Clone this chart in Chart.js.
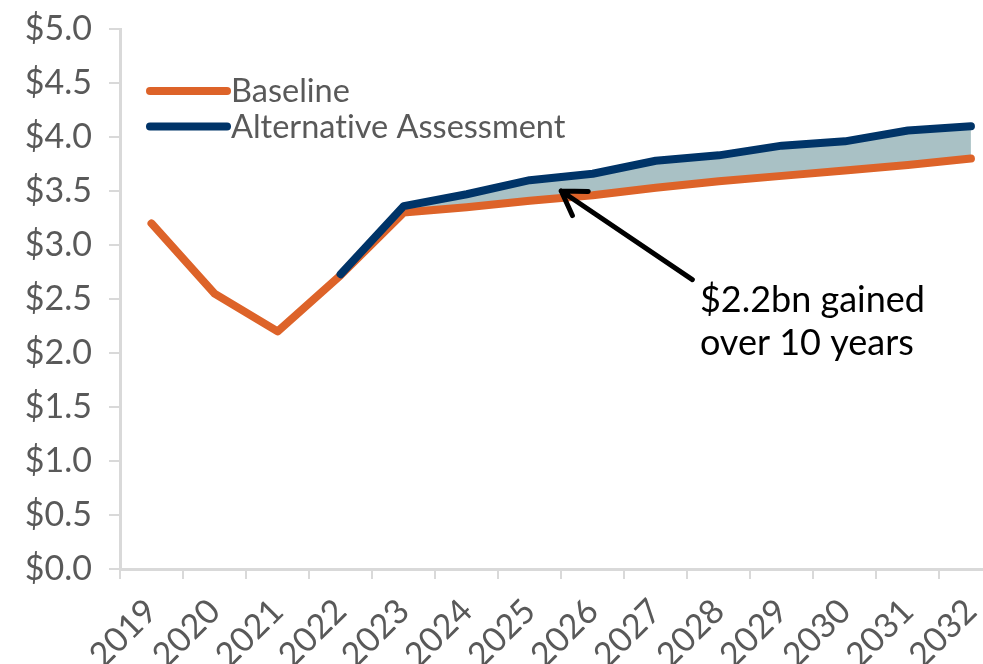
<!DOCTYPE html>
<html>
<head>
<meta charset="utf-8">
<script src="https://cdn.jsdelivr.net/npm/chart.js@4/dist/chart.umd.min.js"></script>
<style>
  html, body { margin: 0; padding: 0; background: #fff; overflow: hidden; }
  #wrap { position: relative; width: 1012px; height: 664px; }
</style>
</head>
<body>
<div id="wrap"><canvas id="chart"></canvas></div>
<script>
// values ($bn)
const years = ["2019", "2020", "2021", "2022", "2023", "2024", "2025", "2026",
  "2027", "2028", "2029", "2030", "2031", "2032"];
const baseline = [3.20, 2.55, 2.20, 2.72, 3.30, 3.35, 3.41, 3.46, 3.53, 3.59, 3.64, 3.69, 3.74, 3.80];
const alternative = [null, null, null, 2.73, 3.36, 3.47, 3.60, 3.66, 3.78, 3.83, 3.92, 3.96, 4.06, 4.10];
const yTicks = [0, 0.5, 1, 1.5, 2, 2.5, 3, 3.5, 4, 4.5, 5];

// annotation, in axis units (category index, $bn)
const arrowTip = [6.5, 3.5];
const arrowTail = [8.58, 2.68];
const noteAt = [8.7, 2.49];
const noteLines = ["$2.2bn gained", "over 10 years"];

const ORANGE = "#dd6329";
const NAVY = "#003468";
const FILL = "#a9c1c5";
const AXIS = "#d9d9d9";
const TEXT = "#595959";
const FONT = "Lato, 'Open Sans', sans-serif";

const legendPlugin = {
  id: "insideLegend",
  afterDraw(chart) {
    const ctx = chart.ctx;
    const area = chart.chartArea;
    const x0 = area.left + 30, x1 = area.left + 107;
    ctx.save();
    ctx.font = "32.5px " + FONT;
    ctx.textRendering = "optimizeSpeed"; // no "ti" ligature
    ctx.textBaseline = "middle";
    ctx.lineCap = "round";
    ctx.lineWidth = 8;
    chart.data.datasets.forEach((ds, i) => {
      const y = area.top + 62 + i * 35.5;
      ctx.strokeStyle = ds.borderColor;
      ctx.beginPath();
      ctx.moveTo(x0, y);
      ctx.lineTo(x1, y);
      ctx.stroke();
      ctx.fillStyle = TEXT;
      ctx.fillText(ds.label, x1 + 4, y + 1);
    });
    ctx.restore();
  },
};

const notePlugin = {
  id: "note",
  afterDatasetsDraw(chart) {
    const xs = chart.scales.x, ys = chart.scales.y;
    const px = (v) => xs.getPixelForValue(v);
    const tipX = px(arrowTip[0]), tipY = ys.getPixelForValue(arrowTip[1]);
    const tailX = px(arrowTail[0]), tailY = ys.getPixelForValue(arrowTail[1]);
    const ctx = chart.ctx;
    ctx.save();
    ctx.strokeStyle = "#000";
    ctx.lineWidth = 5;
    ctx.lineCap = "round";
    ctx.beginPath();
    ctx.moveTo(tailX, tailY);
    ctx.lineTo(tipX, tipY);
    const ang = Math.atan2(tailY - tipY, tailX - tipX);
    const head = 27;
    [-0.58, 0.55].forEach((d) => {
      ctx.moveTo(tipX, tipY);
      ctx.lineTo(tipX + head * Math.cos(ang + d), tipY + head * Math.sin(ang + d));
    });
    ctx.stroke();
    ctx.fillStyle = "#000";
    ctx.font = "36px " + FONT;
    ctx.textBaseline = "middle";
    const nx = px(noteAt[0]), ny = ys.getPixelForValue(noteAt[1]);
    noteLines.forEach((t, i) => ctx.fillText(t, nx, ny + i * 43));
    ctx.restore();
  },
};

new Chart(document.getElementById("chart"), {
  type: "line",
  data: {
    labels: years,
    datasets: [
      {
        label: "Baseline",
        data: baseline,
        borderColor: ORANGE,
        borderWidth: 8,
        borderCapStyle: "round",
        borderJoinStyle: "round",
        pointRadius: 0,
        tension: 0,
        fill: false,
        order: 1,
      },
      {
        label: "Alternative Assessment",
        data: alternative,
        borderColor: NAVY,
        backgroundColor: FILL,
        borderWidth: 8,
        borderCapStyle: "round",
        borderJoinStyle: "round",
        pointRadius: 0,
        tension: 0,
        fill: "-1",
        order: 0,
      },
    ],
  },
  options: {
    responsive: true,
    maintainAspectRatio: false,
    animation: false,
    layout: { padding: { top: 29, right: 6, left: 0, bottom: 0 } },
    plugins: {
      legend: { display: false },
      tooltip: { enabled: false },
      filler: { drawTime: "beforeDatasetsDraw" },
    },
    scales: {
      x: {
        offset: true,
        grid: { offset: true, drawOnChartArea: false, color: AXIS, lineWidth: 2, tickLength: 10 },
        border: { color: AXIS, width: 3 },
        ticks: {
          color: TEXT,
          font: { family: FONT, size: 34 },
          minRotation: 45,
          maxRotation: 45,
          padding: 12,
        },
        afterFit(s) { s.height = 95; },
      },
      y: {
        min: 0,
        max: 5,
        afterBuildTicks(s) { s.ticks = yTicks.map((v) => ({ value: v })); },
        grid: { drawOnChartArea: false, color: AXIS, lineWidth: 2, tickLength: 11 },
        border: { color: AXIS, width: 3 },
        ticks: {
          color: TEXT,
          font: { family: FONT, size: 34 },
          padding: 17,
          callback: (v) => "$" + Number(v).toFixed(1),
        },
        afterFit(s) {
          s.width = 120;
          s.paddingTop = 0;
          s.paddingBottom = 0;
        },
      },
    },
  },
  plugins: [legendPlugin, notePlugin],
});
</script>
</body>
</html>
